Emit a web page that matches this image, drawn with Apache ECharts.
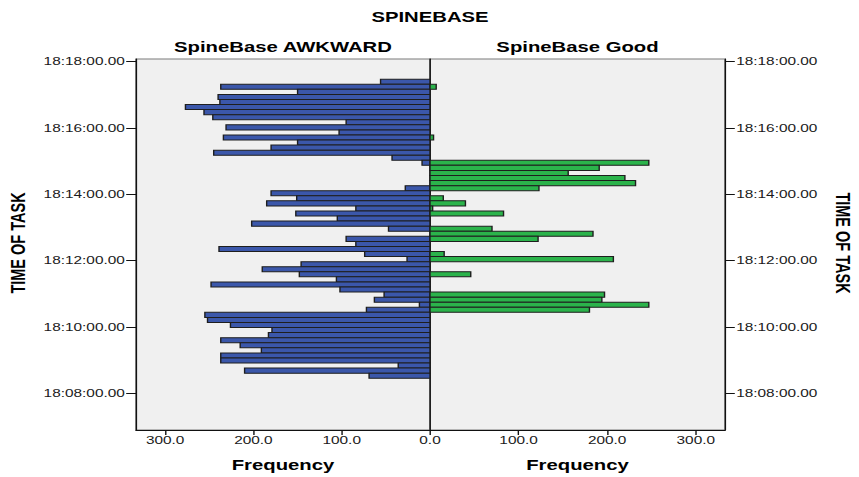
<!DOCTYPE html>
<html>
<head>
<meta charset="utf-8">
<script src="https://cdn.jsdelivr.net/npm/echarts@6/dist/echarts.min.js"></script>
<style>
  html, body { margin: 0; padding: 0; background: #ffffff; overflow: hidden; }
  #chart { position: absolute; left: 0; top: 0; width: 614px; height: 477px;
           transform: scaleX(1.3990228); transform-origin: 0 0; }
</style>
</head>
<body>
<div id="chart"></div>
<script>
// ---------------- data ----------------
// Histogram bins of TIME OF TASK, listed from the latest bin (top) to the earliest (bottom).
const topBinEnd = '18:17:28.0';   // upper edge of the first (top) bin
const binWidthSec = 9.16;          // width of each bin, seconds
const awkwardFreq = [56,237,150,240,238,277,256,246,95,231,
                     103,234,150,180,245,43,9,0,0,0,
                     0,28,180,151,185,84,152,105,202,47,
                     0,95,84,239,74,26,146,190,148,106,
                     248,102,52,63,12,72,255,252,226,179,
                     183,237,215,191,237,237,36,210,69];
const goodFreq    = [0,7,0,0,0,0,0,0,0,0,
                     0,4,0,0,0,0,247,191,156,220,
                     232,123,0,15,40,3,83,0,0,70,
                     184,122,0,0,16,207,0,0,46,0,
                     0,0,197,194,247,180,0,0,0,0,
                     0,0,0,0,0,0,0,0,0];
const timeTicks = ['18:08:00','18:10:00','18:12:00','18:14:00','18:16:00','18:18:00'];
const freqTicksLeft = [0,100,200,300];
const freqTicksRight = [100,200,300];
const axisTimeMin = '18:06:54.0';
const axisTimeMax = '18:18:04.5';
const freqMax = 333;

// ---------------- helpers ----------------
function toSec(s) { // seconds after 18:00:00
  const p = s.split(':');
  return (parseFloat(p[0]) - 18) * 3600 + parseFloat(p[1]) * 60 + parseFloat(p[2]);
}
function pad(n) { return (n < 10 ? '0' : '') + n; }
function fmtTime(sec) {
  sec = Math.round(sec);
  const h = 18 + Math.floor(sec / 3600);
  const m = Math.floor((sec % 3600) / 60);
  const s = sec % 60;
  return h + ':' + pad(m) + ':' + pad(s) + '.00';
}
const topEnd = toSec(topBinEnd);
function buildBins(freqs) {
  const out = [];
  freqs.forEach(function (f, i) {
    const tEnd = topEnd - i * binWidthSec;
    const tStart = tEnd - binWidthSec;
    if (f > 0) out.push([f, tStart, tEnd]);
  });
  return out;
}
const tickSecs = timeTicks.map(toSec);

// ---------------- layout (inner, un-stretched coordinates) ----------------
const S = 859 / 614;
function ix(x) { return x / S; }
const plotL = ix(136), plotC = ix(430), plotR = ix(725);
const plotT = 59, plotB = 430;

const BLUE = '#3b57aa', GREEN = '#2bb34b', EDGE = '#1e1e1e';
const FONT = '"Liberation Sans", Arial, sans-serif';

function makeRender(color) {
  return function (params, api) {
    const f = api.value(0), t0 = api.value(1), t1 = api.value(2);
    const a = api.coord([0, t1]);
    const b = api.coord([f, t0]);
    return {
      type: 'rect',
      shape: { x: Math.min(a[0], b[0]), y: Math.min(a[1], b[1]),
               width: Math.abs(b[0] - a[0]), height: Math.abs(b[1] - a[1]) },
      style: { fill: color, stroke: EDGE, lineWidth: 1 }
    };
  };
}

const yMin = toSec(axisTimeMin), yMax = toSec(axisTimeMax);
function timeAxis(grid, pos, labels) {
  return {
    type: 'value', gridIndex: grid, position: pos, min: yMin, max: yMax,
    axisLine: { show: true, onZero: false, lineStyle: { color: '#111', width: 1 } },
    axisTick: { show: labels, inside: false, length: 7, customValues: tickSecs,
                lineStyle: { color: '#111' } },
    axisLabel: { show: labels, customValues: tickSecs, formatter: fmtTime,
                 fontFamily: FONT, fontSize: 11, color: '#1a1a1a', margin: 8 },
    splitLine: { show: false }
  };
}
function freqAxis(grid, inverse, ticks) {
  return {
    type: 'value', gridIndex: grid, inverse: inverse, min: 0, max: freqMax,
    axisLine: { show: true, onZero: false, lineStyle: { color: '#111', width: 1 } },
    axisTick: { show: true, length: 5, customValues: ticks, lineStyle: { color: '#111' } },
    axisLabel: { show: true, customValues: ticks,
                 formatter: function (v) { return Number(v).toFixed(1); },
                 fontFamily: FONT, fontSize: 11, color: '#1a1a1a', margin: 5 },
    splitLine: { show: false }
  };
}

const option = {
  backgroundColor: '#ffffff',
  animation: false,
  grid: [
    { left: plotL, top: plotT, width: plotC - plotL, height: plotB - plotT,
      show: true, backgroundColor: '#f0f0f0', borderColor: '#7a7a7a', borderWidth: 1,
      containLabel: false, outerBoundsMode: 'none' },
    { left: plotC, top: plotT, width: plotR - plotC, height: plotB - plotT,
      show: true, backgroundColor: '#f0f0f0', borderColor: '#7a7a7a', borderWidth: 1,
      containLabel: false, outerBoundsMode: 'none' }
  ],
  xAxis: [ freqAxis(0, true, freqTicksLeft), freqAxis(1, false, freqTicksRight) ],
  yAxis: [ timeAxis(0, 'left', true), timeAxis(1, 'right', true), timeAxis(1, 'left', false) ],
  series: [
    { type: 'custom', name: 'SpineBase AWKWARD', xAxisIndex: 0, yAxisIndex: 0,
      renderItem: makeRender(BLUE), encode: { x: 0, y: [1, 2] },
      data: buildBins(awkwardFreq), z: 3 },
    { type: 'custom', name: 'SpineBase Good', xAxisIndex: 1, yAxisIndex: 1,
      renderItem: makeRender(GREEN), encode: { x: 0, y: [1, 2] },
      data: buildBins(goodFreq), z: 3 }
  ],
  graphic: [
    { type: 'text', x: plotC, y: 17, style: { text: 'SPINEBASE', font: 'bold 14.5px ' + FONT,
      fill: '#000', align: 'center', verticalAlign: 'middle' } },
    { type: 'text', x: (plotL + plotC) / 2, y: 47, style: { text: 'SpineBase AWKWARD',
      font: 'bold 14.5px ' + FONT, fill: '#000', align: 'center', verticalAlign: 'middle' } },
    { type: 'text', x: (plotC + plotR) / 2, y: 47, style: { text: 'SpineBase Good',
      font: 'bold 14.5px ' + FONT, fill: '#000', align: 'center', verticalAlign: 'middle' } },
    { type: 'text', x: (plotL + plotC) / 2, y: 465, style: { text: 'Frequency',
      font: 'bold 14.5px ' + FONT, fill: '#000', align: 'center', verticalAlign: 'middle' } },
    { type: 'text', x: (plotC + plotR) / 2, y: 465, style: { text: 'Frequency',
      font: 'bold 14.5px ' + FONT, fill: '#000', align: 'center', verticalAlign: 'middle' } },
    { type: 'text', x: ix(18), y: 243, rotation: Math.PI / 2, style: { text: 'TIME OF TASK',
      font: 'bold 14.5px ' + FONT, fill: '#000', align: 'center', verticalAlign: 'middle' } },
    { type: 'text', x: ix(843), y: 243, rotation: -Math.PI / 2, style: { text: 'TIME OF TASK',
      font: 'bold 14.5px ' + FONT, fill: '#000', align: 'center', verticalAlign: 'middle' } }
  ]
};

const chart = echarts.init(document.getElementById('chart'), null, { renderer: 'svg' });
chart.setOption(option);
</script>
</body>
</html>
